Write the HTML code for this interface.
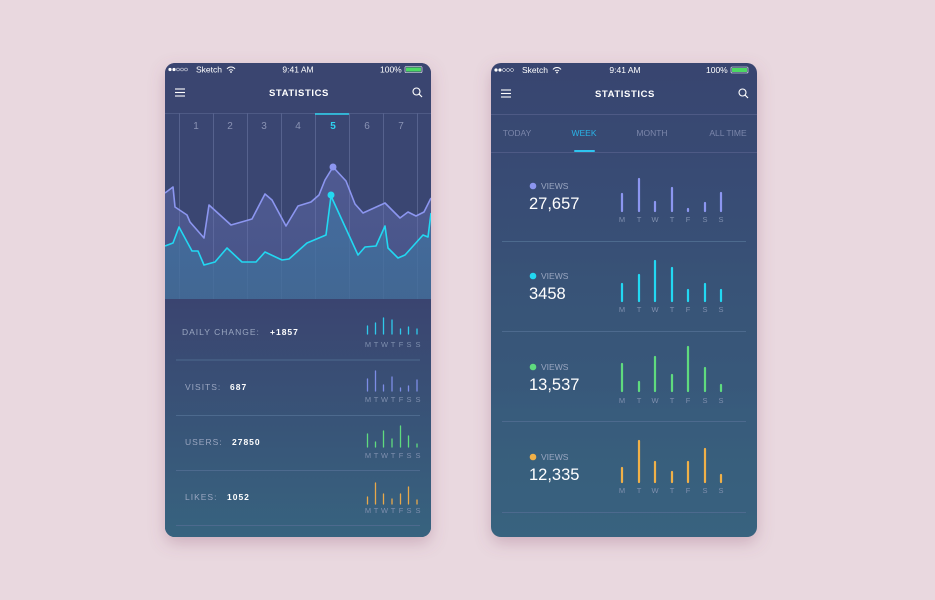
<!DOCTYPE html>
<html><head><meta charset="utf-8"><style>
html,body{margin:0;padding:0;background:#e9d8df;width:935px;height:600px;overflow:hidden}
svg{display:block}
text{font-family:"Liberation Sans",sans-serif}
</style></head><body>
<svg width="935" height="600" viewBox="0 0 935 600" xmlns="http://www.w3.org/2000/svg">
<defs>
<linearGradient id="bgL" x1="0" y1="0" x2="0" y2="1"><stop offset="0" stop-color="#3a4470"/><stop offset="1" stop-color="#37637f"/></linearGradient>
<linearGradient id="bgR" x1="0" y1="0" x2="0" y2="1"><stop offset="0" stop-color="#394470"/><stop offset="1" stop-color="#37637f"/></linearGradient>
<linearGradient id="fillP" x1="0" y1="0" x2="0" y2="1"><stop offset="0" stop-color="#6a72b8" stop-opacity="0.45"/><stop offset="1" stop-color="#5a6aa8" stop-opacity="0.4"/></linearGradient>
<linearGradient id="fillC" x1="0" y1="0" x2="0" y2="1"><stop offset="0" stop-color="#3f78a8" stop-opacity="0.6"/><stop offset="1" stop-color="#3f6f98" stop-opacity="0.7"/></linearGradient>
<filter id="sh" x="-20%" y="-20%" width="140%" height="140%"><feDropShadow dx="0" dy="6" stdDeviation="8" flood-color="#8a5070" flood-opacity="0.3"/></filter>
<clipPath id="cL"><rect x="165" y="63" width="266" height="474" rx="10"/></clipPath>
</defs>

<!-- LEFT PHONE -->
<rect x="165" y="63" width="266" height="474" rx="10" fill="url(#bgL)" filter="url(#sh)"/>
<g clip-path="url(#cL)">
<rect x="165" y="63" width="266" height="50" fill="#3a4570"/>
<rect x="165" y="113" width="266" height="186" fill="#3a4672"/>
<rect x="165" y="299" width="266" height="238" fill="url(#bgL)"/>
<line x1="165" y1="113.5" x2="431" y2="113.5" stroke="#4e5a85" stroke-width="1"/>
<g stroke="#56628e" stroke-width="1">
<line x1="179.5" y1="113" x2="179.5" y2="299"/><line x1="213.5" y1="113" x2="213.5" y2="299"/><line x1="247.5" y1="113" x2="247.5" y2="299"/><line x1="281.5" y1="113" x2="281.5" y2="299"/><line x1="315.5" y1="113" x2="315.5" y2="299"/><line x1="349.5" y1="113" x2="349.5" y2="299"/><line x1="383.5" y1="113" x2="383.5" y2="299"/><line x1="417.5" y1="113" x2="417.5" y2="299"/>
</g>
<line x1="315" y1="114" x2="349" y2="114" stroke="#2ed3f0" stroke-width="1.5"/>
<g font-size="10" fill="#8a93b4" text-anchor="middle">
<text x="196" y="129">1</text><text x="230" y="129">2</text><text x="264" y="129">3</text><text x="298" y="129">4</text><text x="333" y="129" fill="#2ed3f0" font-weight="bold">5</text><text x="367" y="129">6</text><text x="401" y="129">7</text>
</g>
<polygon fill="url(#fillP)" points="165,299 165,193 173,187 175,207 187,215 190,222 204,238 209,205 231,225 252,219 265,194 272,200 286,226 298,206 311,202 319,195 325,180 333,167 346,181 355,204 363,213 385,203 400,218 408,212 416,216 424,212 431,198 431,299"/>
<polygon fill="url(#fillC)" points="165,299 165,246 173,243 179,227 192,251 198,251 204,265 215,262 227,248 242,262 256,262 265,252 282,260 289,259 307,243 326,235 331,196 358,255 365,247 376,246 385,226 388,248 398,258 405,255 423,235 428,237 431,213 431,299"/>
<polyline fill="none" stroke="#8c96f0" stroke-width="1.6" stroke-linejoin="round" points="165,193 173,187 175,207 187,215 190,222 204,238 209,205 231,225 252,219 265,194 272,200 286,226 298,206 311,202 319,195 325,180 333,167 346,181 355,204 363,213 385,203 400,218 408,212 416,216 424,212 431,198"/>
<polyline fill="none" stroke="#22d8f2" stroke-width="1.6" stroke-linejoin="round" points="165,246 173,243 179,227 192,251 198,251 204,265 215,262 227,248 242,262 256,262 265,252 282,260 289,259 307,243 326,235 331,196 358,255 365,247 376,246 385,226 388,248 398,258 405,255 423,235 428,237 431,213"/>
<circle cx="333" cy="167" r="3.5" fill="#8c96f0"/>
<circle cx="331" cy="195" r="3.5" fill="#22d8f2"/>
<rect x="165" y="299" width="266" height="238" fill="url(#bgL)"/>
</g>
<!-- status bar L -->
<g font-size="8.5" fill="#fff">
<circle cx="170" cy="69.5" r="1.6" fill="#fff"/><circle cx="174" cy="69.5" r="1.6" fill="#fff"/><circle cx="178" cy="69.5" r="1.5" fill="none" stroke="#fff" stroke-width="0.5"/><circle cx="182" cy="69.5" r="1.5" fill="none" stroke="#fff" stroke-width="0.5"/><circle cx="186" cy="69.5" r="1.5" fill="none" stroke="#fff" stroke-width="0.5"/>
<text x="196" y="72.5">Sketch</text>
<path d="M227,69 a5,5 0 0 1 8,0 M229,70.5 a3,3 0 0 1 4,0" fill="none" stroke="#fff" stroke-width="1"/><circle cx="231" cy="72" r="0.9"/>
<text x="298" y="72.5" text-anchor="middle">9:41 AM</text>
<text x="380" y="72.5">100%</text>
<rect x="405" y="66.5" width="17" height="6" rx="1" fill="none" stroke="#fff" stroke-width="0.6"/><rect x="406" y="67.5" width="15" height="4" fill="#4cd964"/>
</g>
<g stroke="#fff" stroke-width="1.1"><line x1="175" y1="89" x2="185" y2="89"/><line x1="175" y1="92.5" x2="185" y2="92.5"/><line x1="175" y1="96" x2="185" y2="96"/></g>
<text x="299" y="96" font-size="9.5" font-weight="bold" fill="#fff" text-anchor="middle" letter-spacing="0.6">STATISTICS</text>
<circle cx="416.5" cy="91.5" r="3.5" fill="none" stroke="#fff" stroke-width="1.1"/><line x1="419" y1="94" x2="422" y2="97" stroke="#fff" stroke-width="1.2"/>

<g font-size="8.5" letter-spacing="1" fill="#9aa6c0">
<text x="182" y="335">DAILY CHANGE:</text><text x="270" y="335" fill="#fff" font-weight="bold">+1857</text>
<text x="185" y="390">VISITS:</text><text x="230" y="390" fill="#fff" font-weight="bold">687</text>
<text x="185" y="445">USERS:</text><text x="232" y="445" fill="#fff" font-weight="bold">27850</text>
<text x="185" y="500">LIKES:</text><text x="227" y="500" fill="#fff" font-weight="bold">1052</text>
</g>
<g stroke="#4d6a8e" stroke-width="1"><line x1="176" y1="360" x2="420" y2="360"/><line x1="176" y1="415.5" x2="420" y2="415.5"/><line x1="176" y1="470.5" x2="420" y2="470.5"/><line x1="176" y1="525.5" x2="420" y2="525.5"/></g>
<g stroke-width="1.3" stroke-linecap="round">
<g stroke="#2fc9ea"><line x1="367.5" y1="334" x2="367.5" y2="326"/><line x1="375.5" y1="334" x2="375.5" y2="323"/><line x1="383.5" y1="334" x2="383.5" y2="318"/><line x1="392" y1="334" x2="392" y2="320"/><line x1="400.5" y1="334" x2="400.5" y2="329"/><line x1="408.5" y1="334" x2="408.5" y2="327"/><line x1="417" y1="334" x2="417" y2="329"/></g>
<g stroke="#7d8de6"><line x1="367.5" y1="391" x2="367.5" y2="379"/><line x1="375.5" y1="391" x2="375.5" y2="371"/><line x1="383.5" y1="391" x2="383.5" y2="385"/><line x1="392" y1="391" x2="392" y2="377"/><line x1="400.5" y1="391" x2="400.5" y2="388"/><line x1="408.5" y1="391" x2="408.5" y2="386"/><line x1="417" y1="391" x2="417" y2="380"/></g>
<g stroke="#5fdb7e"><line x1="367.5" y1="447" x2="367.5" y2="434"/><line x1="375.5" y1="447" x2="375.5" y2="442"/><line x1="383.5" y1="447" x2="383.5" y2="431"/><line x1="392" y1="447" x2="392" y2="439"/><line x1="400.5" y1="447" x2="400.5" y2="426"/><line x1="408.5" y1="447" x2="408.5" y2="436"/><line x1="417" y1="447" x2="417" y2="444"/></g>
<g stroke="#e8a84a"><line x1="367.5" y1="504" x2="367.5" y2="497"/><line x1="375.5" y1="504" x2="375.5" y2="483"/><line x1="383.5" y1="504" x2="383.5" y2="494"/><line x1="392" y1="504" x2="392" y2="499"/><line x1="400.5" y1="504" x2="400.5" y2="494"/><line x1="408.5" y1="504" x2="408.5" y2="487"/><line x1="417" y1="504" x2="417" y2="500"/></g>
</g>
<g font-size="7.5" fill="#7f8fae" text-anchor="middle">
<text x="368" y="347">M</text><text x="376" y="347">T</text><text x="384.5" y="347">W</text><text x="393" y="347">T</text><text x="401" y="347">F</text><text x="409" y="347">S</text><text x="418" y="347">S</text>
<text x="368" y="402">M</text><text x="376" y="402">T</text><text x="384.5" y="402">W</text><text x="393" y="402">T</text><text x="401" y="402">F</text><text x="409" y="402">S</text><text x="418" y="402">S</text>
<text x="368" y="458">M</text><text x="376" y="458">T</text><text x="384.5" y="458">W</text><text x="393" y="458">T</text><text x="401" y="458">F</text><text x="409" y="458">S</text><text x="418" y="458">S</text>
<text x="368" y="513">M</text><text x="376" y="513">T</text><text x="384.5" y="513">W</text><text x="393" y="513">T</text><text x="401" y="513">F</text><text x="409" y="513">S</text><text x="418" y="513">S</text>
</g>

<!-- RIGHT PHONE -->
<rect x="491" y="63" width="266" height="474" rx="10" fill="url(#bgR)" filter="url(#sh)"/>
<g font-size="8.5" fill="#fff">
<circle cx="496" cy="70" r="1.6" fill="#fff"/><circle cx="500" cy="70" r="1.6" fill="#fff"/><circle cx="504" cy="70" r="1.5" fill="none" stroke="#fff" stroke-width="0.5"/><circle cx="508" cy="70" r="1.5" fill="none" stroke="#fff" stroke-width="0.5"/><circle cx="512" cy="70" r="1.5" fill="none" stroke="#fff" stroke-width="0.5"/>
<text x="522" y="73">Sketch</text>
<path d="M553,69.5 a5,5 0 0 1 8,0 M555,71 a3,3 0 0 1 4,0" fill="none" stroke="#fff" stroke-width="1"/><circle cx="557" cy="72.5" r="0.9"/>
<text x="625" y="73" text-anchor="middle">9:41 AM</text>
<text x="706" y="73">100%</text>
<rect x="731" y="67" width="17" height="6" rx="1" fill="none" stroke="#fff" stroke-width="0.6"/><rect x="732" y="68" width="15" height="4" fill="#4cd964"/>
</g>
<g stroke="#fff" stroke-width="1.1"><line x1="501" y1="90" x2="511" y2="90"/><line x1="501" y1="93.5" x2="511" y2="93.5"/><line x1="501" y1="97" x2="511" y2="97"/></g>
<text x="625" y="97" font-size="9.5" font-weight="bold" fill="#fff" text-anchor="middle" letter-spacing="0.6">STATISTICS</text>
<circle cx="742.5" cy="92.5" r="3.5" fill="none" stroke="#fff" stroke-width="1.1"/><line x1="745" y1="95" x2="748" y2="98" stroke="#fff" stroke-width="1.2"/>
<line x1="491" y1="114.5" x2="757" y2="114.5" stroke="#4e5a85"/>
<g font-size="8.5" fill="#7b86aa" text-anchor="middle">
<text x="517" y="136">TODAY</text><text x="584" y="136" fill="#2ab3e6">WEEK</text><text x="652" y="136">MONTH</text><text x="728" y="136">ALL TIME</text>
</g>
<line x1="575" y1="151" x2="594" y2="151" stroke="#2ec4f0" stroke-width="2" stroke-linecap="round"/>
<line x1="491" y1="152.5" x2="757" y2="152.5" stroke="#4e5a85"/>
<g stroke="#4d6a8e"><line x1="502" y1="241.5" x2="746" y2="241.5"/><line x1="502" y1="331.5" x2="746" y2="331.5"/><line x1="502" y1="421.5" x2="746" y2="421.5"/><line x1="502" y1="512.5" x2="746" y2="512.5"/></g>
<g font-size="8.5" fill="#9aa6c0">
<circle cx="533" cy="186" r="3.3" fill="#8c96f0"/><text x="541" y="189">VIEWS</text>
<circle cx="533" cy="276" r="3.3" fill="#22d8f2"/><text x="541" y="279">VIEWS</text>
<circle cx="533" cy="367" r="3.3" fill="#5fdb7e"/><text x="541" y="370">VIEWS</text>
<circle cx="533" cy="457" r="3.3" fill="#f0b048"/><text x="541" y="460">VIEWS</text>
</g>
<g font-size="16.5" fill="#fff">
<text x="529" y="209">27,657</text><text x="529" y="299">3458</text><text x="529" y="390">13,537</text><text x="529" y="480">12,335</text>
</g>
<g stroke-width="2.2" stroke-linecap="round">
<g stroke="#8c96f0"><line x1="622" y1="211" x2="622" y2="194"/><line x1="639" y1="211" x2="639" y2="179"/><line x1="655" y1="211" x2="655" y2="202"/><line x1="672" y1="211" x2="672" y2="188"/><line x1="688" y1="211" x2="688" y2="209"/><line x1="705" y1="211" x2="705" y2="203"/><line x1="721" y1="211" x2="721" y2="193"/></g>
<g stroke="#22d8f2"><line x1="622" y1="301" x2="622" y2="284"/><line x1="639" y1="301" x2="639" y2="275"/><line x1="655" y1="301" x2="655" y2="261"/><line x1="672" y1="301" x2="672" y2="268"/><line x1="688" y1="301" x2="688" y2="290"/><line x1="705" y1="301" x2="705" y2="284"/><line x1="721" y1="301" x2="721" y2="290"/></g>
<g stroke="#5fdb7e"><line x1="622" y1="391" x2="622" y2="364"/><line x1="639" y1="391" x2="639" y2="382"/><line x1="655" y1="391" x2="655" y2="357"/><line x1="672" y1="391" x2="672" y2="375"/><line x1="688" y1="391" x2="688" y2="347"/><line x1="705" y1="391" x2="705" y2="368"/><line x1="721" y1="391" x2="721" y2="385"/></g>
<g stroke="#f0b048"><line x1="622" y1="482" x2="622" y2="468"/><line x1="639" y1="482" x2="639" y2="441"/><line x1="655" y1="482" x2="655" y2="462"/><line x1="672" y1="482" x2="672" y2="472"/><line x1="688" y1="482" x2="688" y2="462"/><line x1="705" y1="482" x2="705" y2="449"/><line x1="721" y1="482" x2="721" y2="475"/></g>
</g>
<g font-size="7.5" fill="#7f8fae" text-anchor="middle">
<text x="622" y="222">M</text><text x="639" y="222">T</text><text x="655" y="222">W</text><text x="672" y="222">T</text><text x="688" y="222">F</text><text x="705" y="222">S</text><text x="721" y="222">S</text>
<text x="622" y="312">M</text><text x="639" y="312">T</text><text x="655" y="312">W</text><text x="672" y="312">T</text><text x="688" y="312">F</text><text x="705" y="312">S</text><text x="721" y="312">S</text>
<text x="622" y="403">M</text><text x="639" y="403">T</text><text x="655" y="403">W</text><text x="672" y="403">T</text><text x="688" y="403">F</text><text x="705" y="403">S</text><text x="721" y="403">S</text>
<text x="622" y="493">M</text><text x="639" y="493">T</text><text x="655" y="493">W</text><text x="672" y="493">T</text><text x="688" y="493">F</text><text x="705" y="493">S</text><text x="721" y="493">S</text>
</g>
</svg>
</body></html>
